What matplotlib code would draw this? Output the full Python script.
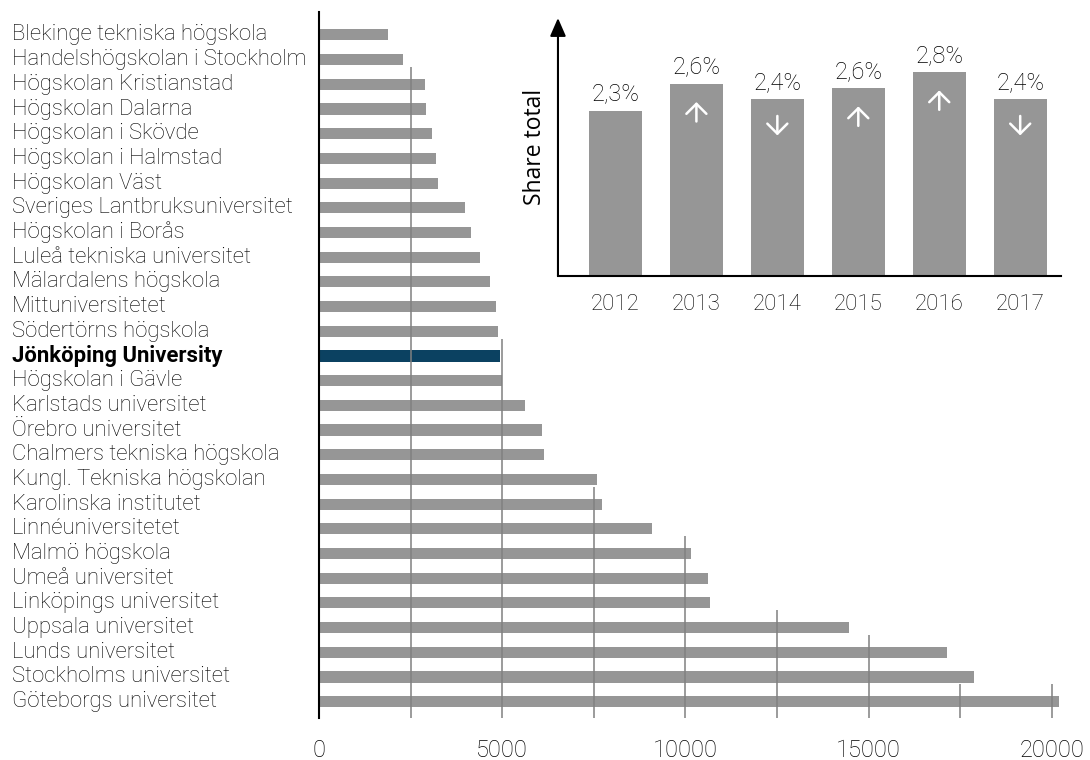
import matplotlib
matplotlib.use('Agg')
import matplotlib.pyplot as plt
import numpy as np
from matplotlib.transforms import offset_copy, blended_transform_factory

# ---------------- data ----------------
universities = [
    "Blekinge tekniska högskola",
    "Handelshögskolan i Stockholm",
    "Högskolan Kristianstad",
    "Högskolan Dalarna",
    "Högskolan i Skövde",
    "Högskolan i Halmstad",
    "Högskolan Väst",
    "Sveriges Lantbruksuniversitet",
    "Högskolan i Borås",
    "Luleå tekniska universitet",
    "Mälardalens högskola",
    "Mittuniversitetet",
    "Södertörns högskola",
    "Jönköping University",
    "Högskolan i Gävle",
    "Karlstads universitet",
    "Örebro universitet",
    "Chalmers tekniska högskola",
    "Kungl. Tekniska högskolan",
    "Karolinska institutet",
    "Linnéuniversitetet",
    "Malmö högskola",
    "Umeå universitet",
    "Linköpings universitet",
    "Uppsala universitet",
    "Lunds universitet",
    "Stockholms universitet",
    "Göteborgs universitet",
]
students = [1875, 2285, 2885, 2910, 3075, 3185, 3240, 3975, 4140, 4385,
            4660, 4825, 4880, 4930, 4990, 5615, 6080, 6135, 7600, 7715,
            9080, 10145, 10610, 10665, 14465, 17130, 17870, 20190]
highlight = "Jönköping University"
x_ticks = [0, 5000, 10000, 15000, 20000]
grid_values = [2500, 5000, 7500, 10000, 12500, 15000, 17500, 20000]
grid_start_rows = [2, 13, 19, 21, 24, 25, 27, 27]

years = ["2012", "2013", "2014", "2015", "2016", "2017"]
share = [2.26, 2.63, 2.42, 2.57, 2.79, 2.42]

# ---------------- style ----------------
FONT = "Roboto"
BAR_GREY = "#969696"
GRID_GREY = "#808080"
HL_COLOR = "#0b4161"
TEXT = "#000000"

fig = plt.figure(figsize=(10.9, 7.6), dpi=100)
fig.patch.set_facecolor("white")

# ---------------- main chart ----------------
ax = fig.add_axes([0.29266, 0.0553, 0.6857, 0.9293])
rows = np.arange(len(universities))
colors = [HL_COLOR if u == highlight else BAR_GREY for u in universities]
ax.barh(rows, students, height=0.45, color=colors, zorder=2)

for g, r in zip(grid_values, grid_start_rows):
    ax.vlines(g, r - 0.7, len(universities) - 0.34, color=GRID_GREY,
              lw=1.1, zorder=3)

ax.set_xlim(0, 20400)
ax.set_ylim(len(universities) - 0.34, -0.94)

for s in ["top", "right", "bottom"]:
    ax.spines[s].set_visible(False)
ax.spines["left"].set_linewidth(1.5)
ax.spines["left"].set_color("black")
ax.spines["left"].set_zorder(4)

ax.set_yticks([])
label_tr = offset_copy(blended_transform_factory(fig.transFigure, ax.transData),
                       fig=fig, y=0, units="points")
for r, u in zip(rows, universities):
    hl = (u == highlight)
    ax.text(12 / 1090, r, u, transform=label_tr, ha="left", va="center",
            family=FONT, fontsize=15.9,
            fontweight="bold" if hl else "light",
            color=TEXT, clip_on=False)

ax.set_xticks(x_ticks)
ax.set_xticklabels([str(t) for t in x_ticks])
ax.tick_params(axis="x", length=0, pad=15)
for lab in ax.get_xticklabels():
    lab.set_fontfamily(FONT)
    lab.set_fontweight("light")
    lab.set_fontsize(17)
    lab.set_color(TEXT)

# ---------------- inset chart ----------------
ax2 = fig.add_axes([0.5119, 0.6372, 0.4612, 0.3391])
ax2.set_facecolor("white")
xs = np.arange(len(years))
ax2.bar(xs, share, width=0.655, color=BAR_GREY, zorder=2)
ax2.set_xlim(-0.71, len(years) - 0.5)
ax2.set_ylim(0, 3.535)

for s in ["top", "right", "left"]:
    ax2.spines[s].set_visible(False)
ax2.spines["bottom"].set_linewidth(1.5)
ax2.spines["bottom"].set_color("black")
ax2.spines["bottom"].set_zorder(4)

ax2.annotate("", xy=(0, 1), xycoords="axes fraction", xytext=(0, 0),
             textcoords="axes fraction",
             arrowprops=dict(arrowstyle="-|>,head_length=0.55,head_width=0.24",
                             color="black", lw=1.5, mutation_scale=20,
                             shrinkA=0, shrinkB=0),
             annotation_clip=False, zorder=5)

ax2.set_yticks([])
ax2.set_xticks(xs)
ax2.set_xticklabels(years)
ax2.tick_params(axis="x", length=0, pad=13)
for lab in ax2.get_xticklabels():
    lab.set_fontfamily(FONT)
    lab.set_fontweight("light")
    lab.set_fontsize(16)
    lab.set_color(TEXT)

ax2.set_ylabel("Share total", family="Open Sans", fontsize=16.5, labelpad=8,
               color="black")

for i, v in enumerate(share):
    ax2.annotate(f"{v:.1f}".replace(".", ",") + "%", xy=(i, v),
                 xytext=(0, 4), textcoords="offset points",
                 ha="center", va="bottom", family=FONT, fontweight="light",
                 fontsize=17, color=TEXT)

for i in range(1, len(share)):
    up = share[i] > share[i - 1]
    if up:
        tip = offset_copy(ax2.transData, fig=fig, y=-13, units="points")
        tail = (0, -14)
    else:
        tip = offset_copy(ax2.transData, fig=fig, y=-26, units="points")
        tail = (0, 14)
    ax2.annotate("", xy=(i, share[i]), xycoords=tip, xytext=tail,
                 textcoords="offset points",
                 arrowprops=dict(arrowstyle="->,head_length=0.36,head_width=0.36",
                                 color="white", lw=1.8, mutation_scale=20,
                                 shrinkA=0, shrinkB=0),
                 zorder=5)

fig.savefig("out.png", dpi=100, facecolor="white")
